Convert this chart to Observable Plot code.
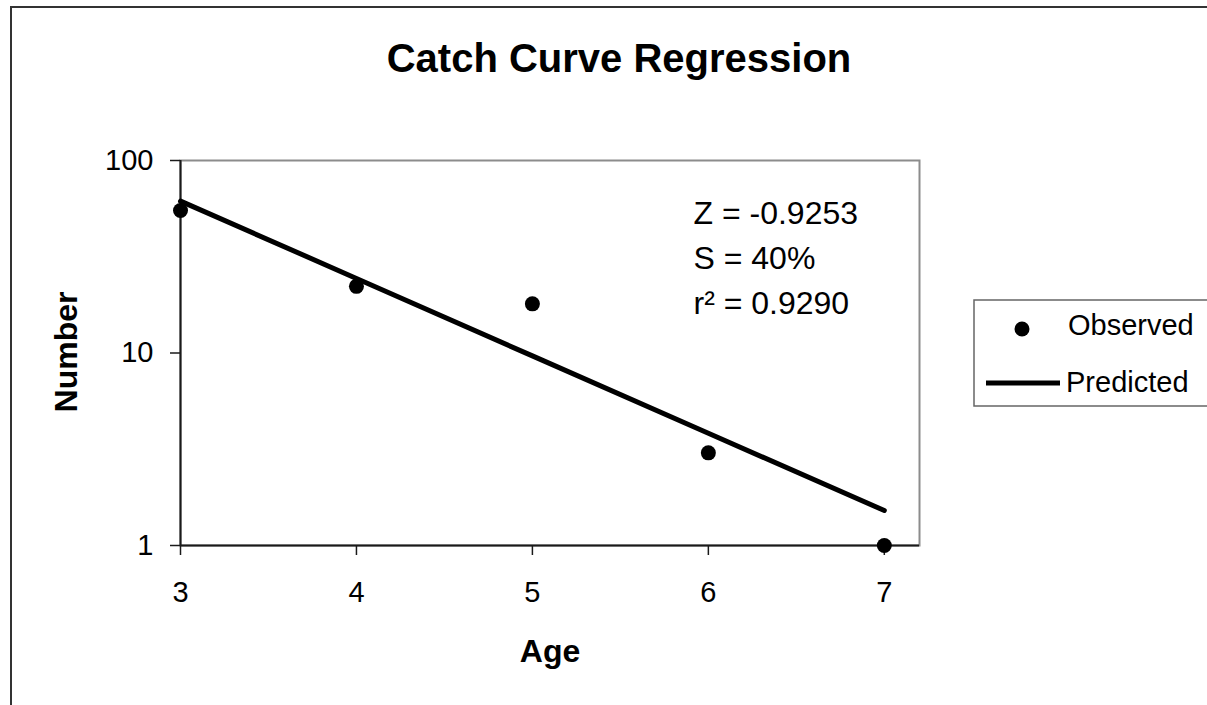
<!DOCTYPE html>
<html>
<head>
<meta charset="utf-8">
<script src="https://cdn.jsdelivr.net/npm/d3@7"></script>
<script src="https://cdn.jsdelivr.net/npm/@observablehq/plot@0.6"></script>
<style>
  html, body { margin: 0; padding: 0; background: #fff; overflow: hidden; }
  #chart { width: 1207px; height: 705px; overflow: hidden; }
  #chart svg { overflow: hidden; display: block; }
</style>
</head>
<body>
<div id="chart"></div>
<script>
// Catch data: number of fish observed at each age
const ages = [3, 4, 5, 6, 7];
const observed = [55, 22.2, 18, 3.03, 1];
// Fitted catch curve: ln(N) = a + Z·age, Z = -0.9253
const predicted = [61.5, 24.4, 9.66, 3.83, 1.52];

const ageTicks = [3, 4, 5, 6, 7];
const numberTicks = [1, 10, 100];

const statLines = ["Z = -0.9253", "S = 40%", "r\u00B2 = 0.9290"];

const obsData = ages.map((a, i) => ({age: a, n: observed[i]}));
const predData = ages.map((a, i) => ({age: a, n: predicted[i]}));

const FONT = "'Liberation Sans', Arial, Helvetica, sans-serif";

const statMarks = statLines.map((t, i) =>
  Plot.text([t], {
    text: d => d,
    frameAnchor: "top-left",
    textAnchor: "start",
    lineAnchor: "bottom",
    dx: 513,
    dy: 63 + i * 45,
    fontSize: 32,
    fill: "#000"
  })
);

const plot = Plot.plot({
  width: 1207,
  height: 705,
  marginLeft: 180,
  marginRight: 288,
  marginTop: 160,
  marginBottom: 160,
  style: {fontFamily: FONT, fontSize: "29px", color: "#000", background: "#fff"},
  x: {type: "linear", domain: [3, 7.2]},
  y: {type: "log", domain: [1, 100]},
  marks: [
    Plot.frame({stroke: "#8c8c8c", strokeWidth: 2}),
    Plot.ruleX([3], {stroke: "#1a1a1a", strokeWidth: 2}),
    Plot.ruleY([1], {stroke: "#1a1a1a", strokeWidth: 2}),
    Plot.axisX({ticks: ageTicks, tickSize: 10, tickPadding: 26, label: null,
                tickFormat: d => String(d), fontSize: 29, stroke: "#1a1a1a", strokeWidth: 1.5}),
    Plot.axisY({ticks: numberTicks, tickSize: 10, tickPadding: 17, label: null,
                tickFormat: d => String(d), fontSize: 29, stroke: "#1a1a1a", strokeWidth: 1.5}),
    Plot.line(predData, {x: "age", y: "n", stroke: "#000", strokeWidth: 5}),
    Plot.dot(obsData, {x: "age", y: "n", r: 7.5, fill: "#000", stroke: "none"}),
    ...statMarks
  ]
});

document.getElementById("chart").appendChild(plot);

const svg = d3.select(plot);

// Outer chart border (continues past the right and bottom edges)
svg.append("path")
  .attr("d", "M11,720 V7 H1220")
  .attr("fill", "none").attr("stroke", "#333").attr("stroke-width", 2);

// Title and axis titles
svg.append("text")
  .attr("x", 619).attr("y", 72)
  .attr("text-anchor", "middle")
  .attr("font-family", FONT).attr("font-size", 40).attr("font-weight", "bold")
  .text("Catch Curve Regression");

svg.append("text")
  .attr("x", 550).attr("y", 662)
  .attr("text-anchor", "middle")
  .attr("font-family", FONT).attr("font-size", 32).attr("font-weight", "bold")
  .text("Age");

svg.append("text")
  .attr("transform", "translate(77,352) rotate(-90)")
  .attr("text-anchor", "middle")
  .attr("font-family", FONT).attr("font-size", 32).attr("font-weight", "bold")
  .text("Number");

// Legend (box runs off the right edge)
const lg = svg.append("g");
lg.append("path")
  .attr("d", "M1220,300 H974 V406 H1220")
  .attr("fill", "#fff").attr("stroke", "#666").attr("stroke-width", 1.5);
lg.append("circle")
  .attr("cx", 1022).attr("cy", 329).attr("r", 7.5).attr("fill", "#000");
lg.append("text")
  .attr("x", 1068).attr("y", 335)
  .attr("text-anchor", "start")
  .attr("font-family", FONT).attr("font-size", 29)
  .text("Observed");
lg.append("line")
  .attr("x1", 986).attr("x2", 1060).attr("y1", 383).attr("y2", 383)
  .attr("stroke", "#000").attr("stroke-width", 5);
lg.append("text")
  .attr("x", 1066).attr("y", 392)
  .attr("text-anchor", "start")
  .attr("font-family", FONT).attr("font-size", 29)
  .text("Predicted");
</script>
</body>
</html>
